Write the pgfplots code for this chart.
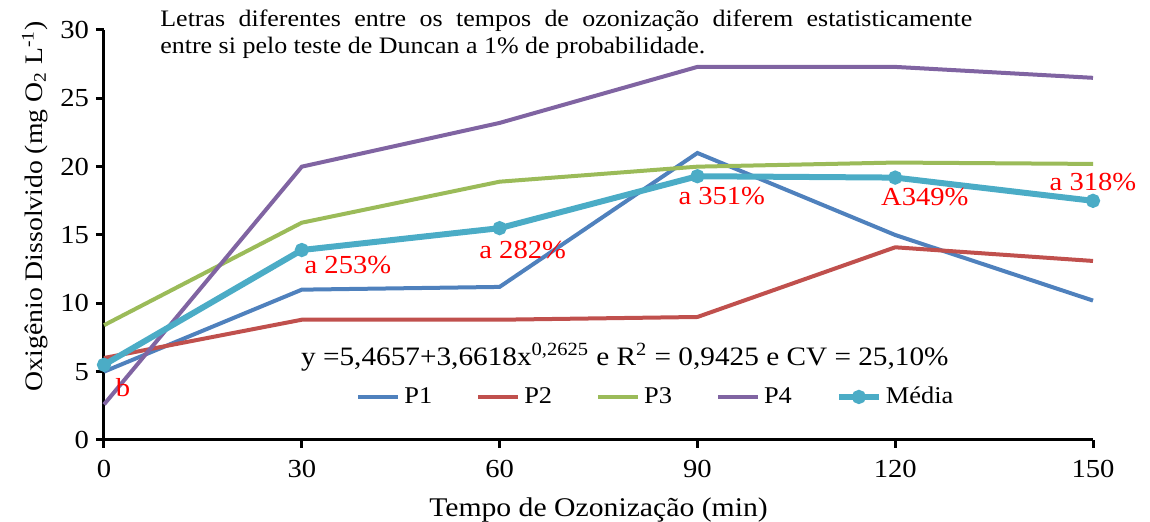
\documentclass[border=0pt]{standalone}
\usepackage{fontspec}
\setmainfont[FakeStretch=1.1]{Liberation Serif}
\usepackage{pgfplots}
\pgfplotsset{compat=1.18}

\definecolor{cP1}{HTML}{4F81BD}
\definecolor{cP2}{HTML}{C0504D}
\definecolor{cP3}{HTML}{9BBB59}
\definecolor{cP4}{HTML}{8064A2}
\definecolor{cMed}{HTML}{4BACC6}

\begin{document}
\begin{tikzpicture}
\useasboundingbox (-52pt,-41pt) rectangle (523pt,220pt);
\begin{axis}[
    at={(0,0)}, anchor=south west,
    scale only axis,
    width=494.5pt, height=205pt,
    xmin=0, xmax=150, ymin=0, ymax=30,
    xtick={0,30,...,150},
    ytick={0,5,...,30},
    axis lines*=left,
    axis line style={line width=1.5pt, black},
    tick style={line width=1.5pt, black},
    tick align=outside,
    major tick length=4pt,
    clip=false,
    /pgf/number format/assume math mode=true,
    tick label style={font=\fontsize{13}{15}\selectfont},
    xticklabel style={yshift=-2.5pt},
    xlabel={Tempo de Ozonização (min)},
    ylabel={Oxigênio Dissolvido (mg O\textsubscript{2} L\textsuperscript{-1})},
    xlabel style={font=\fontsize{13.5}{16}\selectfont, at={(axis description cs:0.5,-0.17)}, anchor=center},
    ylabel style={font=\fontsize{12.6}{15}\selectfont, at={(axis description cs:-0.07,0.57)}, anchor=center},
    legend style={draw=none, fill=none, font=\fontsize{12}{14}\selectfont,
        at={(axis description cs:0.559,0.105)}, anchor=center,
        legend columns=5,
        /tikz/every even column/.append style={column sep=20pt}},
    legend image code/.code={\draw[mark repeat=2,mark phase=2,#1] plot coordinates {(0pt,0pt) (10pt,0pt) (20pt,0pt)};},
]
% P1
\addplot[color=cP1, line width=2pt] coordinates {
    (0,5.0)(30,11.0)(60,11.2)(90,21.0)(120,15.0)(150,10.2)};
\addlegendentry{P1}
% P2
\addplot[color=cP2, line width=2pt] coordinates {
    (0,6.0)(30,8.8)(60,8.8)(90,9.0)(120,14.1)(150,13.1)};
\addlegendentry{P2}
% P3
\addplot[color=cP3, line width=2pt] coordinates {
    (0,8.4)(30,15.9)(60,18.9)(90,20.0)(120,20.3)(150,20.2)};
\addlegendentry{P3}
% P4
\addplot[color=cP4, line width=2pt] coordinates {
    (0,2.6)(30,20.0)(60,23.2)(90,27.3)(120,27.3)(150,26.5)};
\addlegendentry{P4}
% media
\addplot[color=cMed, line width=3pt, mark=*, mark size=2pt, mark options={solid}] coordinates {
    (0,5.5)(30,13.9)(60,15.5)(90,19.3)(120,19.2)(150,17.5)};
\addlegendentry{Média}

\begin{scope}[every node/.style={red, font=\fontsize{13}{15}\selectfont, inner sep=0pt}]
\node at (axis cs:2.9,3.8) {b};
\node at (axis cs:37.0,12.8) {a 253\%};
\node at (axis cs:63.5,13.9) {a 282\%};
\node at (axis cs:93.7,17.85) {a 351\%};
\node at (axis cs:124.5,17.8) {A349\%};
\node at (axis cs:150,18.9) {a 318\%};
\end{scope}

\node[font=\fontsize{13.3}{15}\selectfont, inner sep=0pt] at (axis cs:79,6.07)
    {y =5,4657+3,6618x\textsuperscript{0,2625} e R\textsuperscript{2} = 0,9425 e CV = 25,10\%};

\node[anchor=north west, inner sep=0pt, text width=406pt, align=justify,
      font=\fontsize{11.8}{13.5}\selectfont] at (axis description cs:0.0566,1.049)
    {Letras diferentes entre os tempos de ozonização diferem estatisticamente\linebreak entre si pelo teste de Duncan a 1\% de probabilidade.};
\end{axis}
\end{tikzpicture}
\end{document}
